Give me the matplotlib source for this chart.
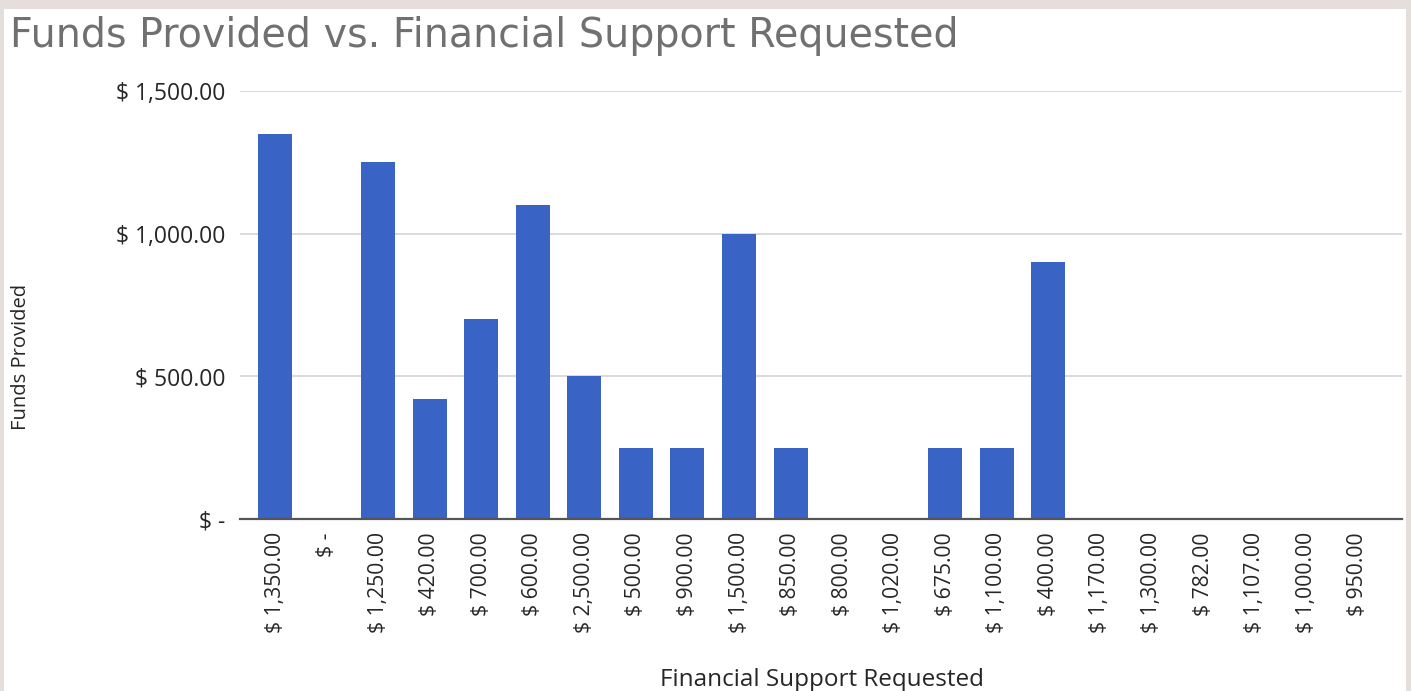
import matplotlib
matplotlib.use("Agg")
import matplotlib.pyplot as plt
from matplotlib.patches import Rectangle
from matplotlib.ticker import FixedLocator

requested = ["$ 1,350.00", "$ -", "$ 1,250.00", "$ 420.00", "$ 700.00", "$ 600.00",
             "$ 2,500.00", "$ 500.00", "$ 900.00", "$ 1,500.00", "$ 850.00", "$ 800.00",
             "$ 1,020.00", "$ 675.00", "$ 1,100.00", "$ 400.00", "$ 1,170.00", "$ 1,300.00",
             "$ 782.00", "$ 1,107.00", "$ 1,000.00", "$ 950.00"]
provided = [1350, 0, 1250, 420, 700, 1100, 500, 250, 250, 1000, 250, 0,
            0, 250, 250, 900, 0, 0, 0, 0, 0, 0]
y_ticks = [0, 500, 1000, 1500]
y_tick_labels = ["$ -", "$ 500.00", "$ 1,000.00", "$ 1,500.00"]

W, H = 1411, 691
fig = plt.figure(figsize=(W / 100, H / 100), dpi=100)
fig.patch.set_facecolor("#E6DEDA")
fig.add_artist(Rectangle((4 / W, 0), (1406 - 4) / W, (H - 9) / H,
                         transform=fig.transFigure, facecolor="white",
                         edgecolor="none", zorder=0))

font = "Open Sans"
txt = "#262626"
ax_left, ax_right = 240, 1402
ax_top, ax_bottom = 91, 519
ax = fig.add_axes([ax_left / W, 1 - ax_bottom / H,
                   (ax_right - ax_left) / W, (ax_bottom - ax_top) / H])
ax.set_facecolor("none")

x = list(range(len(requested)))
ax.bar(x, provided, width=0.66, color="#3A63C6", zorder=3)

ax.set_ylim(0, 1500)
ax.set_xlim(-0.68, 21.86)
ax.yaxis.set_major_locator(FixedLocator(y_ticks))
ax.set_yticklabels(y_tick_labels, fontsize=16.5, family=font, color=txt)
ax.set_xticks(x)
ax.set_xticklabels(requested, rotation=90, fontsize=15.2, family=font, color=txt)
ax.tick_params(axis="both", length=0)
ax.tick_params(axis="y", pad=10.5)
ax.tick_params(axis="x", pad=9.5)

ax.grid(axis="y", color="#D4D4D4", linewidth=1.2, zorder=0)
for s in ["top", "right", "left"]:
    ax.spines[s].set_visible(False)
ax.spines["bottom"].set_color("#555555")
ax.spines["bottom"].set_linewidth(1.6)
ax.spines["bottom"].set_zorder(4)

fig.text(10 / W, 1 - 36 / H, "Funds Provided vs. Financial Support Requested",
         fontsize=28.5, family="DejaVu Sans", color="#707070", ha="left", va="center")
fig.text(21 / W, 1 - 357 / H, "Funds Provided", rotation=90, fontsize=14.5,
         family=font, color=txt, ha="center", va="center")
fig.text(822 / W, 1 - 680 / H, "Financial Support Requested", fontsize=17.5,
         family=font, color=txt, ha="center", va="center")

fig.savefig("out.png", dpi=100, facecolor=fig.get_facecolor())
